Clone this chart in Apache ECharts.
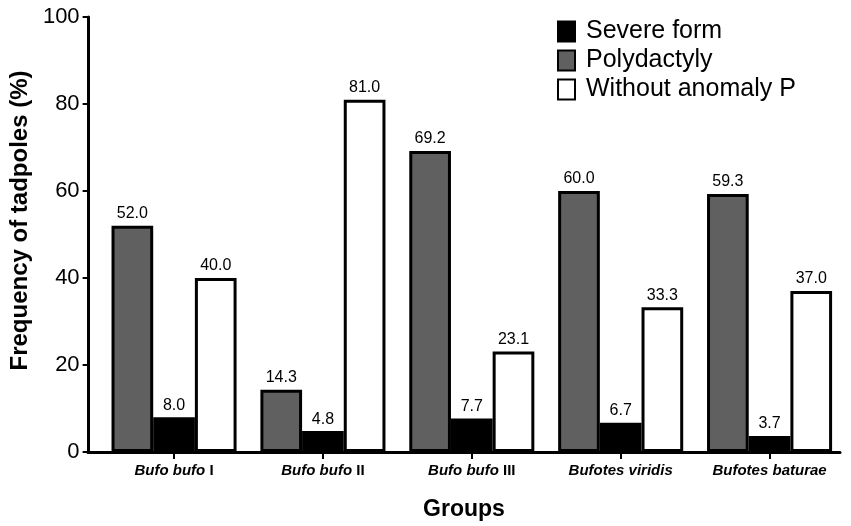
<!DOCTYPE html>
<html>
<head>
<meta charset="utf-8">
<script src="https://cdn.jsdelivr.net/npm/echarts@6/dist/echarts.min.js"></script>
<style>
html,body{margin:0;padding:0;background:#fff;}
#chart{width:851px;height:526px;}
</style>
</head>
<body>
<div id="chart"></div>
<script>
var categories = ['Bufo bufo I', 'Bufo bufo II', 'Bufo bufo III', 'Bufotes viridis', 'Bufotes baturae'];
var categoryItalic = ['Bufo bufo', 'Bufo bufo', 'Bufo bufo', 'Bufotes viridis', 'Bufotes baturae'];
var categoryRoman = ['I', 'II', 'III', '', ''];
var polydactyly = [52.0, 14.3, 69.2, 60.0, 59.3];
var severeForm = [8.0, 4.8, 7.7, 6.7, 3.7];
var withoutAnomaly = [40.0, 81.0, 23.1, 33.3, 37.0];
var yTicks = [0, 20, 40, 60, 80, 100];

var FONT = '"Liberation Sans", Arial, sans-serif';
var chart = echarts.init(document.getElementById('chart'));

function lbl(bg) {
  var o = {
    show: true, position: 'top', distance: 4, color: '#000',
    fontFamily: FONT, fontSize: 16,
    formatter: function (p) { return p.value.toFixed(1); }
  };
  if (bg) { o.backgroundColor = '#fff'; o.padding = [1, 3, 0, 3]; }
  return o;
}

chart.setOption({
  animation: false,
  backgroundColor: '#fff',
  legend: {
    data: ['Severe form', 'Polydactyly', 'Without anomaly P'],
    orient: 'vertical', left: 552, top: 14,
    icon: 'rect', itemWidth: 17, itemHeight: 20, itemGap: 4,
    textStyle: { fontFamily: FONT, fontSize: 25, lineHeight: 25, color: '#000', padding: [0, 0, 0, 6] }
  },
  grid: [
    { left: 99, right: 7, top: 17, bottom: 74 },
    { left: 88, right: 11, top: 17, bottom: 74 }
  ],
  xAxis: [
    {
      type: 'category', gridIndex: 0, data: categories,
      axisLine: { show: false },
      axisTick: { show: true, alignWithLabel: true, length: 7, lineStyle: { color: '#000', width: 2 } },
      axisLabel: {
        margin: 11,
        formatter: function (v, i) {
          return '{i|' + categoryItalic[i] + '}' + (categoryRoman[i] ? '{n| ' + categoryRoman[i] + '}' : '');
        },
        rich: {
          i: { fontFamily: FONT, fontSize: 15, fontWeight: 'bold', fontStyle: 'italic', color: '#000' },
          n: { fontFamily: FONT, fontSize: 15, fontWeight: 'bold', color: '#000' }
        }
      }
    },
    {
      type: 'value', gridIndex: 1, min: 0, max: 1,
      axisLine: { show: true, lineStyle: { color: '#000', width: 3 } },
      axisTick: { show: false }, axisLabel: { show: false }, splitLine: { show: false },
      name: 'Groups', nameLocation: 'middle', nameGap: 46,
      nameTextStyle: { fontFamily: FONT, fontSize: 23, fontWeight: 'bold', color: '#000' }
    }
  ],
  yAxis: [
    {
      type: 'value', gridIndex: 0, min: 0, max: 100, interval: 20, offset: 11,
      axisLine: { show: true, lineStyle: { color: '#000', width: 3 } },
      axisTick: { show: true, length: 6, lineStyle: { color: '#000', width: 2 } },
      axisLabel: {
        margin: 9, fontFamily: FONT, fontSize: 22, color: '#000',
        formatter: function (v) { return yTicks.indexOf(v) >= 0 ? String(v) : ''; }
      },
      splitLine: { show: false },
      name: 'Frequency of tadpoles (%)', nameLocation: 'middle', nameGap: 48,
      nameTextStyle: { fontFamily: FONT, fontSize: 24, fontWeight: 'bold', color: '#000', padding: [0, 0, 0, 28] }
    },
    { type: 'value', gridIndex: 1, show: false, min: 0, max: 1 }
  ],
  series: [
    {
      name: 'Polydactyly', type: 'bar', data: polydactyly,
      barGap: '0%', barCategoryGap: '16%',
      itemStyle: { color: '#606060', borderColor: '#000', borderWidth: 3 },
      label: lbl(false)
    },
    {
      name: 'Severe form', type: 'bar', data: severeForm,
      itemStyle: { color: '#000', borderColor: '#000', borderWidth: 3 },
      label: lbl(true)
    },
    {
      name: 'Without anomaly P', type: 'bar', data: withoutAnomaly,
      itemStyle: { color: '#fff', borderColor: '#000', borderWidth: 3 },
      label: lbl(false)
    }
  ]
});
</script>
</body>
</html>
